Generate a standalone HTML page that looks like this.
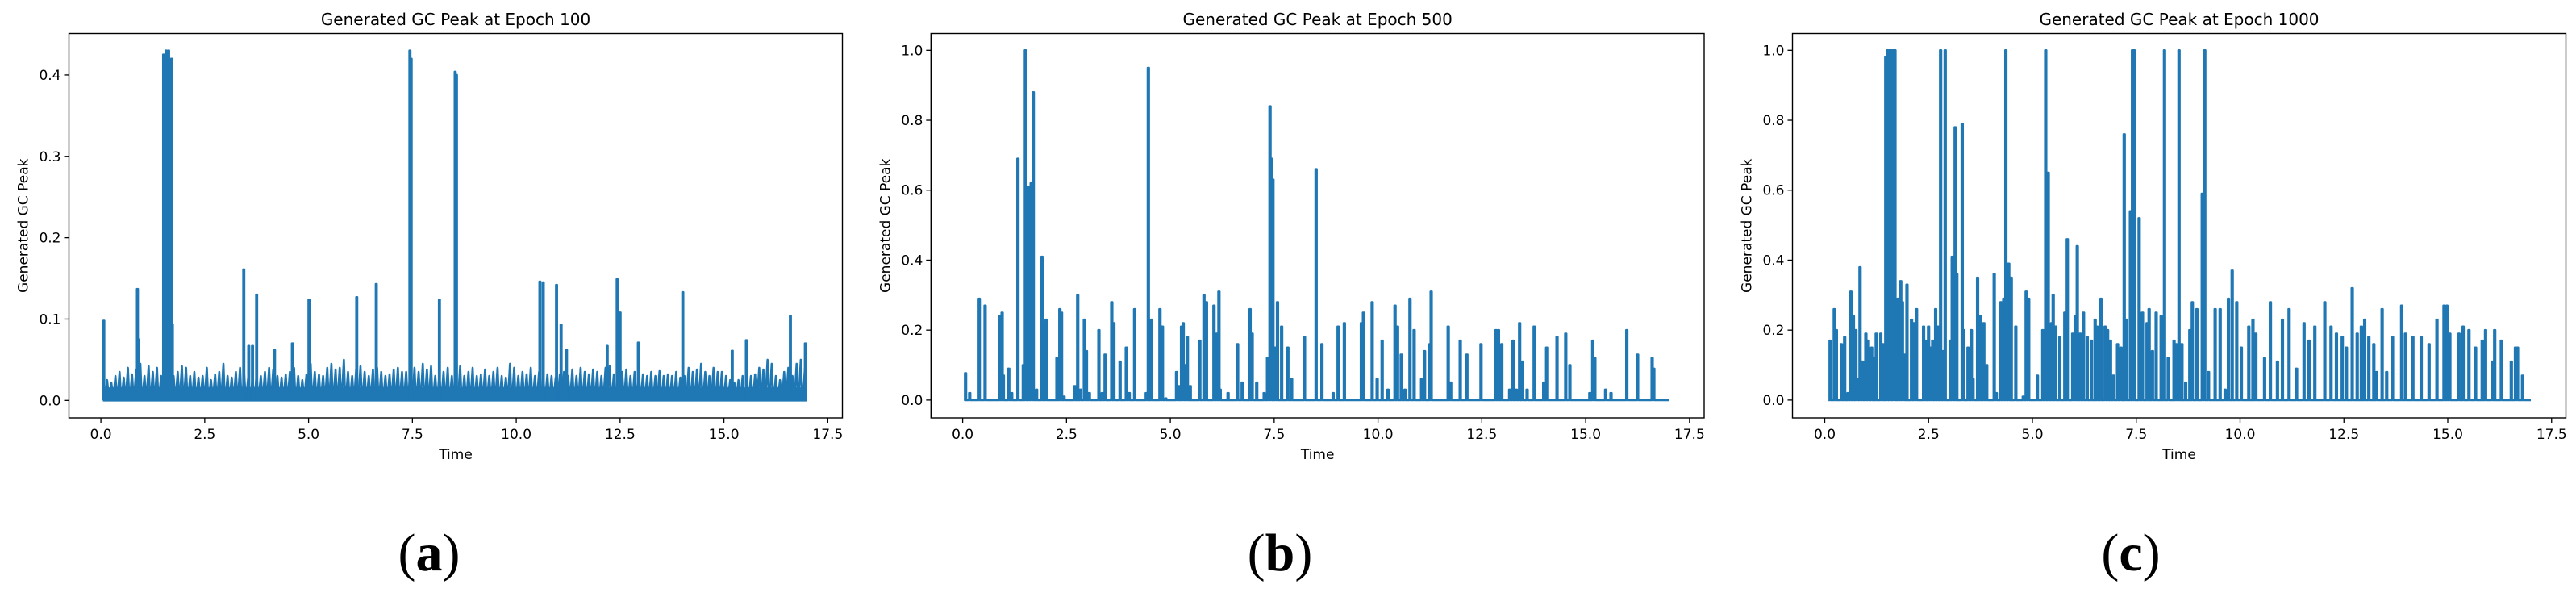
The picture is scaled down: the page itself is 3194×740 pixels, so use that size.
<!DOCTYPE html>
<html><head><meta charset="utf-8"><style>
html,body{margin:0;padding:0;background:#fff;}
svg{display:block;}
text{font-family:"DejaVu Sans","Liberation Sans",sans-serif;fill:#000;}
.cap{font-family:"Liberation Serif",serif;font-weight:normal;}
.cap tspan.b{font-weight:bold;}
</style></head><body>
<svg id="root" width="3194" height="740" viewBox="0 0 3194 740" xmlns="http://www.w3.org/2000/svg"></svg>
<script>
// ---------- data ----------
const xTicks = [0, 2.5, 5, 7.5, 10, 12.5, 15, 17.5];
const xTickLabels = ["0.0","2.5","5.0","7.5","10.0","12.5","15.0","17.5"];
const y1Ticks = [0, 0.1, 0.2, 0.3, 0.4];
const y1TickLabels = ["0.0","0.1","0.2","0.3","0.4"];
const y23Ticks = [0, 0.2, 0.4, 0.6, 0.8, 1.0];
const y23TickLabels = ["0.0","0.2","0.4","0.6","0.8","1.0"];
const titles = ["Generated GC Peak at Epoch 100","Generated GC Peak at Epoch 500","Generated GC Peak at Epoch 1000"];
const captionLetters = ["a","b","c"];

// Epoch 100: baseline noise sampled every 0.1 s from t=0.1
const noiseStart = 0.1, noiseStep = 0.1, noiseFloor = 0.002, bandTop = 0.016;
const noise100 = [0.025,0.022,0.03,0.035,0.028,0.04,0.032,0.038,0.045,0.03,0.042,0.035,0.04,0.03,0.045,0.04,0.03,0.035,0.042,0.04,
0.03,0.035,0.028,0.03,0.04,0.025,0.032,0.035,0.045,0.03,0.028,0.035,0.04,0.032,0.03,0.026,0.032,0.03,0.035,0.04,
0.038,0.03,0.028,0.032,0.035,0.04,0.03,0.025,0.032,0.045,0.035,0.032,0.03,0.04,0.045,0.038,0.04,0.05,0.035,0.03,
0.04,0.042,0.035,0.03,0.038,0.04,0.035,0.03,0.032,0.038,0.04,0.035,0.035,0.038,0.04,0.035,0.045,0.038,0.042,0.03,
0.032,0.035,0.04,0.03,0.028,0.042,0.03,0.035,0.04,0.03,0.032,0.038,0.03,0.035,0.04,0.03,0.028,0.045,0.04,0.03,
0.035,0.032,0.04,0.03,0.035,0.03,0.032,0.03,0.028,0.032,0.035,0.03,0.038,0.03,0.04,0.035,0.032,0.038,0.035,0.03,
0.04,0.042,0.032,0.03,0.035,0.038,0.03,0.035,0.04,0.032,0.03,0.035,0.03,0.036,0.03,0.032,0.03,0.035,0.028,0.03,
0.04,0.035,0.038,0.045,0.035,0.03,0.04,0.035,0.035,0.03,0.025,0.022,0.025,0.03,0.025,0.03,0.032,0.04,0.038,0.05,0.045,
0.03,0.025,0.035,0.04,0.03,0.045,0.05,0.04];
const spikeT100 = [0.07,0.88,0.9,1.51,1.54,1.57,1.6,1.63,1.66,1.7,1.72,3.44,3.56,3.65,3.75,4.18,4.61,5.01,6.16,6.63,7.44,7.47,8.15,8.53,8.56,10.57,10.65,10.97,11.08,11.21,12.19,12.43,12.5,12.94,14.01,15.2,15.54,16.6,16.96];
const spikeV100 = [0.098,0.137,0.075,0.425,0.38,0.43,0.41,0.43,0.4,0.42,0.093,0.161,0.067,0.067,0.13,0.062,0.07,0.124,0.127,0.143,0.43,0.42,0.124,0.404,0.4,0.146,0.145,0.142,0.093,0.062,0.067,0.149,0.108,0.071,0.133,0.061,0.074,0.104,0.07];

// Epoch 500
const spikeT500 = [0.07,0.17,0.4,0.54,0.9,0.95,0.98,1.11,1.18,1.33,1.46,1.51,1.55,1.6,1.65,1.7,1.78,1.91,1.96,2.01,2.27,2.34,2.38,2.44,2.7,2.77,2.84,2.93,2.98,3.05,3.28,3.36,3.43,3.59,3.64,3.79,3.94,4.01,4.14,4.42,4.47,4.55,4.75,4.81,4.89,5.15,5.2,5.27,5.31,5.36,5.41,5.48,5.71,5.81,5.87,6.05,6.12,6.17,6.2,6.39,6.62,6.73,6.92,6.97,7.08,7.26,7.34,7.4,7.43,7.47,7.53,7.58,7.68,7.83,7.92,8.23,8.51,8.65,8.92,9.04,9.19,9.6,9.65,9.86,9.98,10.1,10.24,10.41,10.47,10.56,10.65,10.77,10.87,11.05,11.12,11.25,11.28,11.69,11.75,11.98,12.14,12.48,12.84,12.9,12.98,13.17,13.25,13.33,13.41,13.48,13.59,13.76,13.99,14.06,14.31,14.52,14.62,15.1,15.17,15.22,15.48,15.61,15.99,16.25,16.6,16.64];
const spikeV500 = [0.077,0.02,0.29,0.27,0.24,0.25,0.07,0.09,0.02,0.69,0.1,1.0,0.6,0.61,0.62,0.88,0.03,0.41,0.22,0.23,0.12,0.26,0.25,0.01,0.04,0.3,0.03,0.23,0.14,0.02,0.2,0.02,0.13,0.28,0.22,0.11,0.15,0.02,0.26,0.02,0.95,0.23,0.26,0.21,0.005,0.08,0.04,0.21,0.22,0.1,0.18,0.04,0.17,0.3,0.28,0.27,0.19,0.31,0.03,0.02,0.16,0.05,0.26,0.19,0.05,0.02,0.12,0.84,0.69,0.63,0.15,0.28,0.21,0.15,0.06,0.18,0.66,0.16,0.02,0.21,0.22,0.22,0.25,0.28,0.06,0.17,0.03,0.27,0.21,0.13,0.03,0.29,0.2,0.06,0.14,0.16,0.31,0.21,0.05,0.17,0.13,0.16,0.2,0.2,0.16,0.03,0.17,0.03,0.22,0.11,0.03,0.21,0.05,0.15,0.18,0.19,0.1,0.02,0.17,0.12,0.03,0.02,0.2,0.13,0.12,0.09];

// Epoch 1000
const spikeT1000 = [0.13,0.23,0.28,0.4,0.48,0.56,0.63,0.69,0.75,0.8,0.85,0.91,0.99,1.05,1.13,1.18,1.24,1.35,1.4,1.47,1.51,1.56,1.6,1.65,1.69,1.76,1.83,1.87,1.91,1.98,2.09,2.15,2.21,2.38,2.42,2.5,2.55,2.6,2.67,2.72,2.79,2.86,2.9,3.02,3.07,3.14,3.18,3.31,3.34,3.45,3.53,3.57,3.68,3.74,3.83,3.9,4.08,4.13,4.24,4.31,4.36,4.43,4.49,4.6,4.78,4.85,4.91,5.12,5.25,5.32,5.38,5.46,5.5,5.56,5.66,5.78,5.84,5.97,6.03,6.08,6.15,6.23,6.32,6.42,6.51,6.56,6.65,6.75,6.81,6.88,6.95,7.05,7.13,7.21,7.26,7.36,7.41,7.45,7.57,7.65,7.76,7.81,7.89,7.98,8.1,8.18,8.27,8.41,8.46,8.53,8.6,8.69,8.79,8.85,8.96,9.09,9.15,9.24,9.4,9.52,9.64,9.72,9.81,9.92,10.03,10.21,10.31,10.38,10.59,10.73,10.9,11.02,11.18,11.36,11.54,11.66,11.8,12.04,12.19,12.32,12.46,12.56,12.7,12.82,12.92,13.0,13.1,13.22,13.29,13.42,13.53,13.67,13.89,13.98,14.16,14.36,14.55,14.74,14.91,14.98,15.05,15.27,15.37,15.51,15.67,15.83,15.91,16.07,16.13,16.29,16.53,16.63,16.68,16.8];
const spikeV1000 = [0.17,0.26,0.2,0.16,0.18,0.02,0.31,0.24,0.2,0.06,0.38,0.11,0.19,0.17,0.15,0.12,0.19,0.19,0.16,0.98,1.0,1.0,1.0,1.0,1.0,0.29,0.34,0.28,0.13,0.33,0.23,0.22,0.26,0.21,0.17,0.21,0.15,0.17,0.26,0.21,1.0,0.14,1.0,0.17,0.41,0.78,0.36,0.79,0.2,0.15,0.2,0.06,0.35,0.24,0.22,0.1,0.36,0.02,0.28,0.29,1.0,0.39,0.35,0.21,0.01,0.31,0.29,0.07,0.2,1.0,0.65,0.22,0.3,0.21,0.18,0.25,0.46,0.19,0.24,0.44,0.19,0.25,0.18,0.17,0.23,0.21,0.29,0.21,0.2,0.17,0.07,0.16,0.15,0.76,0.23,0.54,1.0,1.0,0.52,0.25,0.22,0.26,0.14,0.25,0.24,1.0,0.12,0.17,0.16,1.0,0.16,0.05,0.2,0.28,0.26,0.59,1.0,0.08,0.26,0.26,0.03,0.29,0.37,0.28,0.15,0.21,0.23,0.19,0.12,0.28,0.11,0.23,0.26,0.09,0.22,0.17,0.21,0.28,0.21,0.19,0.18,0.15,0.32,0.19,0.21,0.23,0.18,0.16,0.08,0.26,0.08,0.18,0.27,0.19,0.18,0.18,0.16,0.23,0.27,0.27,0.19,0.19,0.21,0.2,0.15,0.17,0.2,0.11,0.2,0.17,0.11,0.15,0.15,0.07];
const seriesStart = [0.05, 0.09, 0.09];
const seriesEnd = [17.0, 17.0, 17.0];

// ---------- layout ----------
const NS = "http://www.w3.org/2000/svg";
const root = document.getElementById('root');
const panels = [
  {left:85.5, right:1044.5, x0:125.1, yMin:-0.0215, yMax:0.451},
  {left:1154.3, right:2113, x0:1193.6, yMin:-0.051, yMax:1.048},
  {left:2222.5, right:3181.5, x0:2262.5, yMin:-0.051, yMax:1.048}
];
const TOP = 41.5, BOT = 518;
const capX = [532, 1587, 2642];
const XPU = 51.5;
const COLOR = "#1f77b4";

function el(tag, attrs, parent){
  const e = document.createElementNS(NS, tag);
  for (const k in attrs) e.setAttribute(k, attrs[k]);
  (parent||root).appendChild(e);
  return e;
}

function spikePath(xs, ys, ts, vs, start, end, halfW){
  let d = "M" + xs(start).toFixed(2) + "," + ys(0).toFixed(2);
  for (let i=0;i<ts.length;i++){
    const a = xs(ts[i]-halfW), b = xs(ts[i]+halfW);
    d += " L" + a.toFixed(2) + "," + ys(0).toFixed(2);
    d += " L" + a.toFixed(2) + "," + ys(vs[i]).toFixed(2);
    d += " L" + b.toFixed(2) + "," + ys(vs[i]).toFixed(2);
    d += " L" + b.toFixed(2) + "," + ys(0).toFixed(2);
  }
  d += " L" + xs(end).toFixed(2) + "," + ys(0).toFixed(2);
  return d;
}

panels.forEach((p, idx) => {
  const g = el('g', {});
  
  
  const xs = t => p.x0 + t*XPU;
  const ys = v => BOT - (v - p.yMin)/(p.yMax - p.yMin)*(BOT-TOP);
  const cx = (p.left+p.right)/2;

  const tt = el('text', {x:cx, y:31, 'font-size':20, 'text-anchor':'middle'}, g);
  tt.textContent = titles[idx];
  
  

  const cp = el('clipPath', {id:'clip'+idx}, g);
  el('rect', {x:p.left, y:TOP, width:p.right-p.left, height:BOT-TOP}, cp);

  const series = el('g', {'clip-path':'url(#clip'+idx+')'}, g);
  
  

  if (idx === 0){
    let d = "";
    for (let i=0;i<noise100.length;i++){
      const t = noiseStart + i*noiseStep;
      d += (i===0?"M":" L") + xs(t).toFixed(2) + "," + ys(noiseFloor).toFixed(2);
      d += " L" + xs(t+noiseStep*0.5).toFixed(2) + "," + ys(noise100[i]).toFixed(2);
      d += " L" + xs(t+noiseStep*0.75).toFixed(2) + "," + ys(noiseFloor+0.01).toFixed(2);
    }
    const n = el('path', {d:d, fill:'none', stroke:COLOR, 'stroke-width':2.6, 'stroke-linejoin':'round'}, series);
    
    
    const tEnd = noiseStart + noise100.length*noiseStep;
    const band = el('rect', {x:xs(noiseStart), y:ys(bandTop), width:xs(tEnd)-xs(noiseStart), height:ys(-0.001)-ys(bandTop), fill:COLOR}, series);
    
    
    const s = el('path', {d:spikePath(xs, ys, spikeT100, spikeV100, seriesStart[0], seriesStart[0], 0.012), fill:'none', stroke:COLOR, 'stroke-width':2.6, 'stroke-linejoin':'round'}, series);
    
    
  } else {
    const T = idx===1 ? spikeT500 : spikeT1000;
    const V = idx===1 ? spikeV500 : spikeV1000;
    const s = el('path', {d:spikePath(xs, ys, T, V, seriesStart[idx], seriesEnd[idx], 0.015), fill:'none', stroke:COLOR, 'stroke-width':2.6, 'stroke-linejoin':'round'}, series);
    
    
  }

  const fr = el('rect', {x:p.left, y:TOP, width:p.right-p.left, height:BOT-TOP, fill:'none', stroke:'#000', 'stroke-width':1.4}, g);
  
  

  xTicks.forEach((t,i) => {
    const x = xs(t);
    const tk = el('line', {x1:x, x2:x, y1:BOT, y2:BOT+6, stroke:'#000', 'stroke-width':1.3}, g);
    
    
    const lb = el('text', {x:x, y:544, 'font-size':17, 'text-anchor':'middle'}, g);
    lb.textContent = xTickLabels[i];
    
    
  });
  const yt = idx===0 ? y1Ticks : y23Ticks;
  const yl = idx===0 ? y1TickLabels : y23TickLabels;
  yt.forEach((v,i) => {
    const y = ys(v);
    const tk = el('line', {x1:p.left-6, x2:p.left, y1:y, y2:y, stroke:'#000', 'stroke-width':1.3}, g);
    
    
    const lb = el('text', {x:p.left-10, y:y+6, 'font-size':17, 'text-anchor':'end'}, g);
    lb.textContent = yl[i];
    
    
  });

  const xl = el('text', {x:cx, y:569, 'font-size':17, 'text-anchor':'middle'}, g);
  xl.textContent = "Time";
  
  

  const ylx = p.left-51;
  const yly = (TOP+BOT)/2;
  const ylab = el('text', {x:ylx, y:yly, 'font-size':17, 'text-anchor':'middle', transform:'rotate(-90 '+ylx+' '+yly+')'}, g);
  ylab.textContent = "Generated GC Peak";
  
  

  const cap = el('text', {x:capX[idx], y:707, 'font-size':66, 'text-anchor':'middle', class:'cap'}, root);
  
  
  const t1 = el('tspan', {}, cap); t1.textContent = "(";
  const t2 = el('tspan', {class:'b'}, cap); t2.textContent = captionLetters[idx];
  const t3 = el('tspan', {}, cap); t3.textContent = ")";
});
</script>
</body></html>
